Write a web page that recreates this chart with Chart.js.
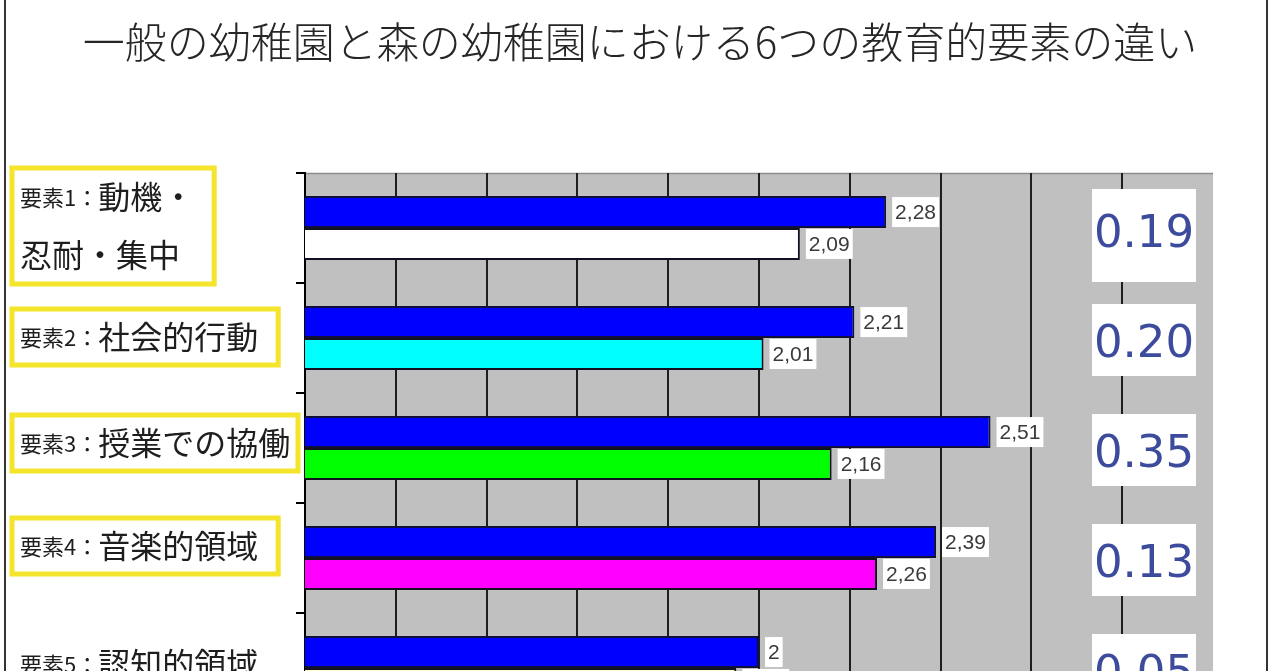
<!DOCTYPE html>
<html>
<head>
<meta charset="utf-8">
<script src="https://cdn.jsdelivr.net/npm/chart.js@4.4.1/dist/chart.umd.min.js"></script>
<style>
html,body{margin:0;padding:0;background:#fff;overflow:hidden;}
canvas{display:block;}
</style>
</head>
<body>
<canvas id="c" width="1280" height="730"></canvas>
<script>
// ---- data ----
const titleText = '一般の幼稚園と森の幼稚園における6つの教育的要素の違い';
const categoryPrefixes = ['要素1：', '要素2：', '要素3：', '要素4：', '要素5：'];
const categoryNames = [['動機・', '忍耐・集中'], ['社会的行動'], ['授業での協働'], ['音楽的領域'], ['認知的領域']];
const categories = categoryPrefixes.map((p, i) => p + categoryNames[i].join(''));
const seriesNames = ['森の幼稚園', '一般の幼稚園'];
const forestValues = [2.28, 2.21, 2.51, 2.39, 2.00];
const generalValues = [2.09, 2.01, 2.16, 2.26, 1.95];
const differences = [0.19, 0.20, 0.35, 0.13, 0.05];
const axisMin = 1.0, axisMax = 3.0, axisStep = 0.2;

// ---- styles ----
const forestColor = '#0000ff';
const generalColors = ['#ffffff', '#00ffff', '#00ff00', '#ff00ff', '#ffffcc'];
const labelBoxed = [true, true, true, true, false];
const labelNudge = [-2, -1, -5, -12, -4];
const diffBoxTall = [true, false, false, false, false];

const framePlugin = {
  id: 'framePlugin',
  beforeDraw(chart) {
    const { ctx, chartArea: a } = chart;
    ctx.save();
    ctx.fillStyle = '#c0c0c0';
    ctx.fillRect(a.left, a.top, a.right - a.left, a.bottom - a.top);
    ctx.strokeStyle = '#8c8c8c';
    ctx.lineWidth = 1.5;
    ctx.beginPath();
    ctx.moveTo(a.left, a.top + 0.5);
    ctx.lineTo(a.right, a.top + 0.5);
    ctx.stroke();
    ctx.strokeStyle = '#333';
    ctx.lineWidth = 2;
    ctx.beginPath();
    ctx.moveTo(5, 0); ctx.lineTo(5, chart.height);
    ctx.moveTo(1267, 0); ctx.lineTo(1267, chart.height);
    ctx.stroke();
    ctx.restore();
  }
};

const valueLabels = {
  id: 'valueLabels',
  afterDatasetsDraw(chart) {
    const ctx = chart.ctx;
    ctx.save();
    ctx.font = '21px "Liberation Sans", Arial, sans-serif';
    ctx.textBaseline = 'middle';
    ctx.textAlign = 'left';
    chart.data.datasets.forEach((ds, di) => {
      const meta = chart.getDatasetMeta(di);
      meta.data.forEach((bar, i) => {
        const txt = String(ds.data[i]).replace('.', ',');
        const w = ctx.measureText(txt).width;
        const x = bar.x + 6, y = bar.y;
        ctx.fillStyle = '#ffffff';
        ctx.fillRect(x, y - 15, w + 6, 30);
        ctx.fillStyle = '#3a3a3a';
        ctx.fillText(txt, x + 3, y + 1);
      });
    });
    // difference boxes
    const ys = chart.scales.y, a = chart.chartArea;
    ctx.font = '45px "DejaVu Sans", Verdana, sans-serif';
    ctx.textAlign = 'center';
    differences.forEach((d, i) => {
      const cy = ys.getPixelForValue(i);
      const bw = 104, bx = a.right - 121;
      let top = cy + 2 - 36, bh = 72;
      if (diffBoxTall[i]) { top = cy - 39; bh = 93; }
      ctx.fillStyle = '#ffffff';
      ctx.fillRect(bx, top, bw, bh);
      ctx.fillStyle = '#3d4b9c';
      ctx.fillText(d.toFixed(2), bx + bw / 2, cy + 7);
    });
    ctx.restore();
  }
};

const sideLabels = {
  id: 'sideLabels',
  afterDraw(chart) {
    const ctx = chart.ctx, ys = chart.scales.y;
    ctx.save();
    ctx.textBaseline = 'middle';
    ctx.textAlign = 'left';
    const pf = '22px "Noto Sans CJK JP", sans-serif';
    const mf = '32px "Noto Sans CJK JP", sans-serif';
    categoryPrefixes.forEach((p, i) => {
      const lines = categoryNames[i];
      const cy = ys.getPixelForValue(i) + labelNudge[i];
      const gap = 58;
      ctx.font = pf;
      const pw = ctx.measureText(p).width;
      ctx.font = mf;
      const widths = lines.map((l, j) => (j === 0 ? pw : 0) + ctx.measureText(l).width);
      const tw = Math.max(...widths);
      let tx = 20;
      if (tx + tw > 294) tx = 294 - tw;
      const n = lines.length;
      const bh = n === 1 ? 56 : 116;
      if (labelBoxed[i]) {
        ctx.strokeStyle = '#f4e52c';
        ctx.lineWidth = 5;
        const bx = tx - 8;
        ctx.strokeRect(bx, cy - bh / 2, Math.min(tw + 28, 298 - bx), bh);
      }
      lines.forEach((l, j) => {
        const ly = cy + (j - (n - 1) / 2) * gap;
        let x = tx;
        ctx.fillStyle = '#1e1e1e';
        if (j === 0) {
          ctx.font = pf;
          ctx.fillText(p, x, ly + 1);
          x += pw;
        }
        ctx.font = mf;
        ctx.fillText(l, x, ly);
      });
    });
    ctx.restore();
  }
};

new Chart(document.getElementById('c'), {
  type: 'bar',
  data: {
    labels: categories,
    datasets: [
      {
        label: seriesNames[0],
        data: forestValues,
        backgroundColor: forestColor,
        borderColor: '#10103a',
        borderWidth: 2,
        categoryPercentage: 0.58,
        barPercentage: 1.0
      },
      {
        label: seriesNames[1],
        data: generalValues,
        backgroundColor: generalColors,
        borderColor: '#111122',
        borderWidth: 2,
        categoryPercentage: 0.58,
        barPercentage: 1.0
      }
    ]
  },
  options: {
    indexAxis: 'y',
    responsive: false,
    animation: false,
    devicePixelRatio: 1,
    layout: { padding: { top: 0, left: 0, right: 0, bottom: 7 } },
    plugins: {
      legend: { display: false },
      tooltip: { enabled: false },
      title: {
        display: true,
        text: titleText,
        color: '#262626',
        font: { family: '"Noto Sans CJK JP", sans-serif', size: 42, weight: 300, lineHeight: 1.2 },
        padding: { top: 17, bottom: 105.6 }
      }
    },
    scales: {
      x: {
        type: 'linear',
        min: axisMin,
        max: axisMax,
        ticks: { display: false, stepSize: axisStep },
        grid: {
          drawTicks: false,
          lineWidth: 2,
          color: (c) => (c.tick && Math.abs(c.tick.value - axisMax) < 1e-6) ? 'rgba(0,0,0,0)' : '#1e1e1e'
        },
        border: { display: false }
      },
      y: {
        afterFit(s) { s.width = 305; },
        ticks: { display: false },
        grid: { display: true, drawOnChartArea: false, drawTicks: true, tickLength: 9, color: '#000', lineWidth: 2, offset: true },
        border: { display: true, color: '#000', width: 2 }
      },
      yRight: {
        type: 'linear',
        position: 'right',
        display: true,
        afterFit(s) { s.width = 67; },
        ticks: { display: false },
        grid: { display: false, drawTicks: false },
        border: { display: false }
      }
    }
  },
  plugins: [framePlugin, valueLabels, sideLabels]
});
</script>
</body>
</html>
